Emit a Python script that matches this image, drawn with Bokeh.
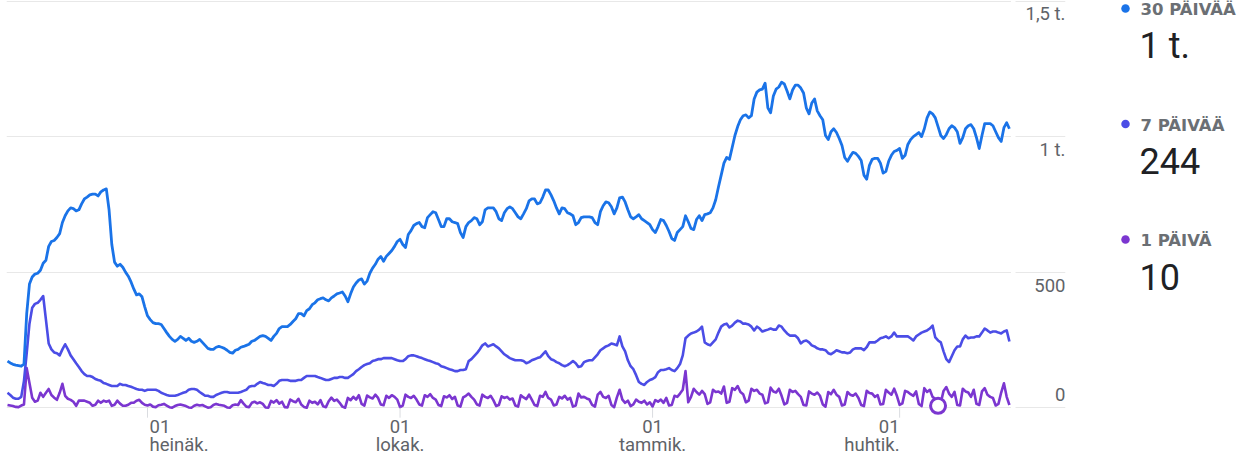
import pandas as pd
from bokeh.plotting import figure
from bokeh.models import ColumnDataSource, Range1d, FixedTicker, BoxAnnotation
from bokeh.layouts import row
from bokeh.core.properties import value, field
from bokeh.embed import file_html
from bokeh.resources import INLINE

# ---------------- data ----------------
start_date = "2022-05-11"

users_30d = [
    172, 165, 160, 157, 155, 153, 161, 347, 456, 482,
    493, 496, 507, 533, 544, 595, 613, 617, 628, 642,
    683, 708, 726, 737, 734, 726, 730, 752, 770, 777,
    785, 788, 788, 781, 796, 803, 807, 730, 602, 537,
    522, 529, 518, 500, 485, 464, 438, 416, 420, 409,
    372, 339, 325, 314, 310, 310, 307, 292, 277, 263,
    252, 245, 252, 263, 256, 248, 256, 245, 241, 245,
    252, 241, 230, 219, 215, 215, 223, 226, 223, 219,
    212, 204, 201, 212, 215, 223, 226, 230, 234, 245,
    248, 256, 263, 266, 263, 256, 248, 263, 274, 292,
    299, 299, 299, 307, 318, 328, 347, 347, 339, 358,
    365, 380, 387, 398, 402, 405, 398, 394, 405, 412,
    420, 423, 427, 412, 391, 420, 445, 460, 471, 475,
    456, 467, 496, 515, 529, 548, 558, 540, 558, 569,
    580, 595, 613, 621, 602, 591, 639, 653, 672, 679,
    683, 668, 664, 701, 712, 723, 719, 694, 668, 668,
    697, 697, 686, 683, 679, 646, 628, 668, 683, 690,
    701, 697, 675, 686, 730, 737, 737, 737, 723, 697,
    690, 719, 734, 741, 734, 719, 704, 697, 715, 734,
    763, 770, 770, 752, 756, 777, 803, 803, 785, 763,
    737, 715, 737, 734, 719, 715, 708, 675, 683, 701,
    704, 704, 704, 701, 683, 675, 723, 745, 759, 756,
    741, 715, 737, 774, 777, 759, 730, 704, 697, 704,
    712, 697, 690, 683, 675, 657, 646, 668, 694, 690,
    672, 650, 624, 617, 646, 657, 668, 708, 686, 661,
    657, 694, 708, 690, 712, 715, 719, 737, 767, 814,
    858, 902, 923, 916, 960, 1004, 1037, 1062, 1077, 1080,
    1069, 1077, 1139, 1164, 1172, 1175, 1197, 1106, 1088, 1150,
    1175, 1183, 1201, 1194, 1168, 1139, 1172, 1190, 1190, 1179,
    1161, 1106, 1084, 1124, 1139, 1095, 1077, 1062, 1004, 989,
    1018, 1029, 1015, 993, 967, 923, 909, 927, 942, 938,
    927, 912, 858, 843, 894, 916, 920, 920, 902, 865,
    872, 909, 931, 945, 949, 956, 920, 931, 971, 989,
    1000, 1007, 1015, 1000, 1029, 1069, 1091, 1084, 1069, 1037,
    1004, 993, 1007, 1029, 1040, 1033, 1018, 975, 996, 1029,
    1040, 1044, 1029, 996, 956, 1004, 1048, 1048, 1048, 1040,
    1018, 996, 982, 1033, 1051, 1029,
]

users_7d = [
    55, 47, 37, 33, 33, 40, 99, 201, 310, 369,
    383, 387, 398, 412, 325, 237, 215, 204, 201, 193,
    215, 234, 215, 193, 179, 164, 150, 135, 124, 117,
    117, 113, 106, 102, 99, 91, 88, 84, 80, 80,
    80, 88, 84, 84, 80, 77, 73, 69, 66, 66,
    62, 66, 66, 66, 66, 62, 55, 51, 47, 44,
    44, 44, 47, 51, 55, 58, 66, 69, 69, 66,
    58, 51, 44, 44, 40, 40, 47, 51, 55, 58,
    58, 55, 55, 55, 55, 58, 62, 66, 77, 80,
    80, 88, 95, 91, 88, 84, 84, 80, 88, 99,
    102, 102, 102, 99, 99, 99, 102, 102, 110, 117,
    117, 117, 117, 113, 110, 106, 102, 102, 106, 110,
    110, 113, 113, 110, 110, 117, 124, 135, 142, 150,
    157, 161, 164, 172, 175, 179, 179, 183, 183, 183,
    183, 179, 175, 172, 172, 179, 190, 193, 193, 190,
    186, 183, 179, 175, 172, 168, 164, 161, 153, 150,
    146, 142, 139, 135, 135, 139, 139, 142, 172, 179,
    190, 201, 215, 230, 237, 226, 230, 234, 226, 219,
    208, 197, 190, 183, 179, 175, 175, 175, 172, 164,
    168, 175, 179, 183, 186, 197, 208, 190, 179, 175,
    168, 164, 157, 153, 157, 164, 172, 164, 150, 153,
    168, 172, 175, 175, 186, 197, 212, 219, 226, 230,
    237, 234, 230, 263, 226, 208, 175, 153, 142, 120,
    95, 88, 84, 95, 102, 106, 113, 131, 139, 139,
    142, 146, 139, 135, 146, 161, 193, 256, 266, 274,
    277, 281, 288, 299, 241, 234, 230, 241, 252, 277,
    299, 307, 310, 296, 303, 314, 321, 318, 310, 310,
    307, 299, 285, 299, 292, 281, 285, 288, 292, 288,
    288, 303, 299, 285, 274, 266, 266, 266, 256, 237,
    245, 248, 241, 230, 226, 219, 215, 215, 212, 201,
    197, 204, 212, 208, 204, 204, 201, 204, 215, 219,
    219, 219, 212, 223, 241, 241, 241, 248, 256, 259,
    263, 256, 263, 277, 263, 263, 263, 263, 263, 256,
    248, 263, 270, 277, 281, 285, 292, 303, 259, 248,
    241, 208, 179, 168, 190, 212, 226, 226, 252, 266,
    256, 259, 259, 263, 263, 277, 292, 285, 277, 281,
    281, 277, 274, 281, 285, 244,
]

users_1d = [
    10, 8, 6, 3, 2, 8, 12,
    146, 91, 37, 22, 26, 55, 40,
    55, 69, 47, 37, 29, 55, 88,
    44, 33, 29, 22, 7, 26, 26,
    26, 22, 18, 7, 11, 26, 18,
    26, 22, 26, 7, 11, 26, 15,
    7, 7, 11, 18, 18, 26, 29,
    18, 11, 8, 12, 4, 2, 9,
    11, 14, 8, 2, 0, 6, 10,
    12, 9, 6, 1, 0, 7, 11,
    8, 10, 5, 0, 2, 10, 14,
    11, 9, 7, 1, 0, 9, 12,
    10, 28, 15, 4, 2, 18, 22,
    16, 20, 14, 1, 0, 25, 19,
    28, 15, 22, 2, 1, 30, 24,
    20, 33, 12, 3, 0, 26, 18,
    22, 12, 28, 5, 2, 24, 37,
    25, 30, 18, 4, 0, 36, 28,
    40, 30, 46, 14, 8, 45, 38,
    34, 48, 36, 12, 9, 44, 36,
    46, 40, 30, 2, 8, 48, 40,
    36, 44, 30, 12, 8, 46, 40,
    50, 36, 30, 10, 6, 42, 38,
    46, 32, 40, 8, 4, 38, 44,
    52, 40, 30, 12, 8, 48, 40,
    36, 44, 28, 6, 10, 42, 36,
    40, 30, 34, 8, 4, 46, 38,
    32, 48, 30, 10, 6, 44, 40,
    58, 36, 30, 8, 12, 40, 34,
    44, 30, 36, 4, 8, 52, 38,
    40, 34, 30, 10, 4, 48, 58,
    40, 36, 44, 10, 2, 38, 66,
    30, 18, 26, 6, 12, 30, 22,
    18, 26, 12, 20, 4, 28, 22,
    30, 18, 36, 8, 10, 44, 40,
    52, 66, 135, 20, 40, 70, 58,
    48, 62, 50, 14, 20, 66, 58,
    60, 52, 78, 18, 22, 72, 66,
    80, 58, 50, 20, 26, 70, 62,
    66, 52, 48, 16, 20, 74, 60,
    56, 70, 44, 12, 18, 66, 58,
    62, 50, 40, 10, 8, 60, 52,
    48, 56, 44, 12, 4, 58, 50,
    66, 48, 40, 8, 12, 58, 48,
    44, 52, 36, 10, 6, 62, 54,
    52, 40, 46, 12, 14, 66, 56,
    48, 70, 44, 10, 16, 62, 58,
    50, 44, 60, 14, 6, 72, 58,
    66, 40, 32, 7, 18, 62, 76,
    52, 40, 58, 10, 8, 70, 60,
    56, 40, 66, 14, 10, 60, 72,
    48, 40, 36, 8, 14, 56, 90,
    40, 10,
]

tick_dates = ["2022-07-01", "2022-10-01", "2023-01-01", "2023-04-01"]
tick_days = ["01", "01", "01", "01"]
tick_months = ["heinäk.", "lokak.", "tammik.", "huhtik."]

y_ticks = [0, 500, 1000, 1500]
y_tick_labels = ["0", "500", "1 t.", "1,5 t."]

legend_labels = ["30 PÄIVÄÄ", "7 PÄIVÄÄ", "1 PÄIVÄ"]
legend_values = ["1 t.", "244", "10"]

marker_date = "2023-04-15"

assert len(users_30d) == len(users_7d) == len(users_1d) == 366

# ---------------- styling ----------------
C30 = "#1a73e8"
C7 = "#4b4de6"
C1 = "#7b36d0"
GRID = "#e8e8e8"
LABEL = "#5f6368"
FONT = value("Roboto")
BG = "white"

H = 456
PX_PER_DAY = 2.745
FRAME_W = 1059
Y0, Y1 = -180, 1502
px_per_unit = H / (Y1 - Y0)

dates = pd.date_range(start_date, periods=len(users_30d), freq="D")
x_start = dates[0] - pd.Timedelta(days=1.0 / PX_PER_DAY)
x_end = x_start + pd.Timedelta(days=FRAME_W / PX_PER_DAY)

p = figure(width=1100, height=H,
           x_range=Range1d(x_start, x_end), y_range=Range1d(Y0, Y1),
           x_axis_location=None, y_axis_location=None,
           toolbar_location=None, output_backend="svg",
           min_border_left=6, min_border_right=35,
           min_border_top=0, min_border_bottom=0,
           outline_line_color=None, background_fill_color=BG,
           border_fill_color=BG)
p.xgrid.visible = False
p.ygrid.ticker = FixedTicker(ticks=y_ticks)
p.ygrid.grid_line_color = GRID
p.ygrid.grid_line_width = 1


def ms(ts):
    return (ts - pd.Timestamp("1970-01-01")).total_seconds() * 1000.0


# small white gap in the grid lines between plot area and the value labels
gap_l = x_start + pd.Timedelta(days=1004.5 / PX_PER_DAY)
gap_r = x_start + pd.Timedelta(days=1009.0 / PX_PER_DAY)
p.add_layout(BoxAnnotation(left=ms(gap_l), right=ms(gap_r), fill_color="white",
                           fill_alpha=1.0, line_color=None, level="underlay"))

src = ColumnDataSource(dict(date=dates, d30=users_30d, d7=users_7d, d1=users_1d))
p.line("date", "d1", source=src, line_color=C1, line_width=2.6, line_join="round")
p.line("date", "d7", source=src, line_color=C7, line_width=2.6, line_join="round")
p.line("date", "d30", source=src, line_color=C30, line_width=2.8, line_join="round")

mi = dates.get_loc(pd.Timestamp(marker_date))
p.scatter(x=[dates[mi]], y=[users_1d[mi]], size=15, marker="circle",
          fill_color="white", line_color=C1, line_width=3)

# x tick marks and two-line date labels
tick_x = pd.to_datetime(tick_dates)
tick_len = 10 / px_per_unit
p.segment(x0=tick_x, y0=[0] * len(tick_x), x1=tick_x, y1=[-tick_len] * len(tick_x),
          line_color="#dadce0", line_width=1)
aligns = ["left"] + ["center"] * (len(tick_x) - 2) + ["right"]
xoffs = [2] + [0] * (len(tick_x) - 2) + [0]
xsrc = ColumnDataSource(dict(x=tick_x, y=[0] * len(tick_x), day=tick_days,
                             mon=tick_months, align=aligns, xo=xoffs))
p.text(x="x", y="y", text="day", source=xsrc, text_align=field("align"),
       x_offset=field("xo"), text_baseline="alphabetic", y_offset=19,
       text_font=FONT, text_font_size="18.5px", text_color=LABEL)
p.text(x="x", y="y", text="mon", source=xsrc, text_align=field("align"),
       x_offset=field("xo"), text_baseline="alphabetic", y_offset=37,
       text_font=FONT, text_font_size="18.5px", text_color=LABEL)

# value labels on the right
above = [(t, l) for t, l in zip(y_ticks, y_tick_labels) if t > 0]
zero = [(t, l) for t, l in zip(y_ticks, y_tick_labels) if t == 0]
ysrc_a = ColumnDataSource(dict(x=[x_end] * len(above), y=[a[0] for a in above],
                               t=[a[1] for a in above]))
ysrc_z = ColumnDataSource(dict(x=[x_end] * len(zero), y=[a[0] for a in zero],
                               t=[a[1] for a in zero]))
p.text(x="x", y="y", text="t", source=ysrc_a, text_align="right",
       text_baseline="alphabetic", y_offset=13, text_font=FONT,
       text_font_size="18.5px", text_color=LABEL)
p.text(x="x", y="y", text="t", source=ysrc_z, text_align="right",
       text_baseline="alphabetic", y_offset=-13, text_font=FONT,
       text_font_size="18.5px", text_color=LABEL)

# ---------------- legend panel ----------------
q = figure(width=140, height=H, x_range=Range1d(0, 140), y_range=Range1d(H, 0),
           x_axis_location=None, y_axis_location=None, toolbar_location=None,
           output_backend="svg", min_border=0, outline_line_color=None,
           background_fill_color=BG, border_fill_color=BG)
q.grid.visible = False
dot_y = [8 + i * 115.5 for i in range(len(legend_labels))]
lsrc = ColumnDataSource(dict(x=[25] * 3, y=dot_y, lab=legend_labels, val=legend_values,
                             c=[C30, C7, C1]))
q.scatter(x="x", y="y", source=lsrc, size=8.5, marker="circle", fill_color="c", line_color=None)
q.text(x="x", y="y", text="lab", source=lsrc, x_offset=15, y_offset=1,
       text_baseline="alphabetic", text_font=value("DejaVu Sans"), text_font_size="16.5px",
       text_font_style="bold", text_color="#6b6f74")
q.text(x="x", y="y", text="val", source=lsrc, x_offset=14, y_offset=37,
       text_baseline="alphabetic", text_font=FONT, text_font_size="36px",
       text_color="#202124")

layout = row(p, q)
open("out.html", "w").write(file_html(layout, INLINE))
